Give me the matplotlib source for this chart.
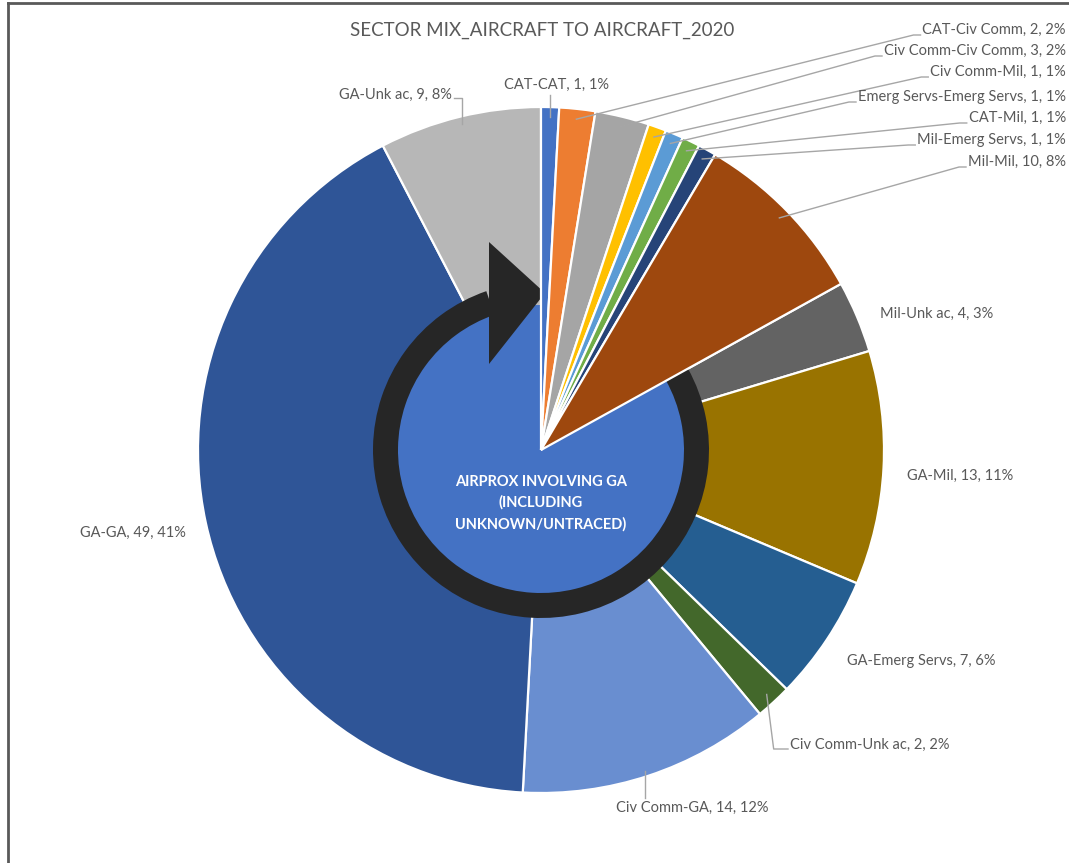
import numpy as np
import matplotlib
matplotlib.use("Agg")
import matplotlib.pyplot as plt
from matplotlib.patches import Circle, Wedge, Polygon
from matplotlib.lines import Line2D

plt.rcParams['font.family'] = ['Lato', 'DejaVu Sans']

# data (clockwise from 12 o'clock)
sectors = ["CAT-CAT", "CAT-Civ Comm", "Civ Comm-Civ Comm", "Civ Comm-Mil",
           "Emerg Servs-Emerg Servs", "CAT-Mil", "Mil-Emerg Servs", "Mil-Mil",
           "Mil-Unk ac", "GA-Mil", "GA-Emerg Servs", "Civ Comm-Unk ac",
           "Civ Comm-GA", "GA-GA", "GA-Unk ac"]
counts = [1, 2, 3, 1, 1, 1, 1, 10, 4, 13, 7, 2, 14, 49, 9]
pcts = [1, 2, 2, 1, 1, 1, 1, 8, 3, 11, 6, 2, 12, 41, 8]
colors = ["#4472C4", "#ED7D31", "#A5A5A5", "#FFC000", "#5B9BD5", "#70AD47",
          "#264478", "#9E480E", "#636363", "#997300", "#255E91", "#43682B",
          "#698ED0", "#2F5597", "#B7B7B7"]
# sectors that involve GA sit under the centre circle
ga_involved = [False] * 8 + [True] * 7

W, H = 1069, 863
cx, cy, R = 541, H - 450, 343

fig = plt.figure(figsize=(W / 100, H / 100), dpi=100)
ax = fig.add_axes([0, 0, 1, 1])

wedges, _ = ax.pie(counts, colors=colors, startangle=90, counterclock=False,
                   center=(cx, cy), radius=R,
                   wedgeprops=dict(edgecolor="white", linewidth=1.6))
for w, ga in zip(wedges, ga_involved):
    w.set_zorder(1 if ga else 4)

ax.set_xlim(0, W)
ax.set_ylim(0, H)
ax.set_aspect('equal')
ax.axis('off')

# centre circle + circular arrow
ax.add_patch(Circle((cx, cy), 145, facecolor="#4472C4", edgecolor="none", zorder=2))
ax.add_patch(Wedge((cx, cy), 168, 109, 389, width=25, facecolor="#262626",
                   edgecolor="none", zorder=3))
ax.add_patch(Polygon([(cx - 52, cy + 208), (cx - 52, cy + 86), (cx + 4, cy + 157)],
                     closed=True, facecolor="#262626", edgecolor="none", zorder=3))
ax.text(cx, cy - 53, "AIRPROX INVOLVING GA\n(INCLUDING\nUNKNOWN/UNTRACED)",
        ha="center", va="center", color="white", fontsize=10.5, fontweight="bold",
        linespacing=1.6, zorder=6)

# label positions in image pixels (x, y, ha)
label_pos = {
    0: (557, 85, "center"),
    1: (1066, 30, "right"),
    2: (1066, 51, "right"),
    3: (1066, 72, "right"),
    4: (1066, 97, "right"),
    5: (1066, 118, "right"),
    6: (1066, 140, "right"),
    7: (1066, 162, "right"),
    8: (880, 314, "left"),
    9: (907, 476, "left"),
    10: (847, 661, "left"),
    11: (790, 745, "left"),
    12: (692, 808, "center"),
    13: (133, 533, "center"),
    14: (452, 95, "right"),
}
txt_col = "#595959"
line_col = "#A6A6A6"
total = sum(counts)
cum = np.cumsum([0] + counts)
texts = []
for i, name in enumerate(sectors):
    x, y, ha = label_pos[i]
    t = ax.text(x, H - y, f"{name}, {counts[i]}, {pcts[i]}%", ha=ha, va="center",
                fontsize=10.5, color=txt_col, zorder=6)
    texts.append(t)

fig.canvas.draw()
renderer = fig.canvas.get_renderer()
inv = ax.transData.inverted()

for i, t in enumerate(texts):
    x, y, ha = label_pos[i]
    ty = H - y
    mid = np.deg2rad((cum[i] + counts[i] / 2) / total * 360)
    px, py = cx + R * 0.97 * np.sin(mid), cy + R * 0.97 * np.cos(mid)
    if 1 <= i <= 7:
        bb = t.get_window_extent(renderer)
        x0 = inv.transform((bb.x0, bb.y0))[0]
        ax.plot([px, x0 - 9, x0 - 2], [py, ty - 5, ty - 5], color=line_col,
                lw=1, zorder=5)
    elif i == 0:
        ax.plot([px, px], [py, ty - 10], color=line_col, lw=1, zorder=5)
    elif i == 11:
        ax.plot([px, px + 7, x - 2], [py, ty - 4, ty - 4], color=line_col,
                lw=1, zorder=5)
    elif i == 12:
        ax.plot([px, px], [py - 5, ty + 10], color=line_col, lw=1, zorder=5)
    elif i == 14:
        ax.plot([px, px, x + 2], [py + 3, ty - 3, ty - 3], color=line_col,
                lw=1, zorder=5)

ax.text(542, H - 30, "SECTOR MIX_AIRCRAFT TO AIRCRAFT_2020", ha="center",
        va="center", fontsize=13.5, color=txt_col)

# frame
fig.add_artist(Line2D([8 / W, 1], [1 - 3.5 / H, 1 - 3.5 / H], color="#595959", lw=2))
fig.add_artist(Line2D([8 / W, 8 / W], [0, 1 - 3.5 / H], color="#595959", lw=2))

fig.savefig("out.png", dpi=100)
